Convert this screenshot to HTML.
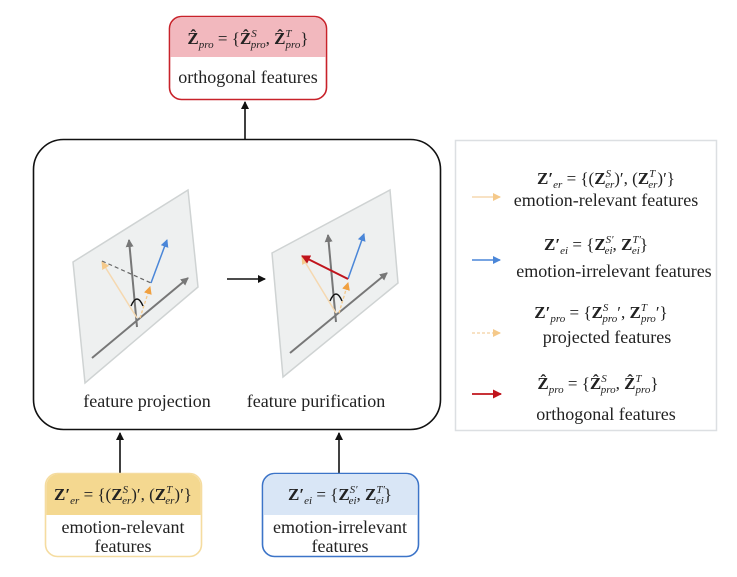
<!DOCTYPE html>
<html><head><meta charset="utf-8"><style>
body{margin:0;background:#fff}
svg{display:block}
text{font-family:"Liberation Serif",serif;fill:#222}
.m{font-size:17px;font-weight:bold}
.t{font-size:18px}
.s{font-size:11px;font-style:italic;font-weight:normal}
.n{font-weight:normal}
</style></head><body>
<svg width="737" height="577" viewBox="0 0 737 577" xmlns="http://www.w3.org/2000/svg">
<defs>
<marker id="ab" markerWidth="8" markerHeight="8" refX="7" refY="4" orient="auto" markerUnits="userSpaceOnUse"><path d="M0,0 L8,4 L0,8 z" fill="#111"/></marker>
<marker id="ag" markerWidth="8" markerHeight="8" refX="7" refY="4" orient="auto" markerUnits="userSpaceOnUse"><path d="M0,0 L8,4 L0,8 z" fill="#777"/></marker>
<marker id="abl" markerWidth="8" markerHeight="8" refX="7" refY="4" orient="auto" markerUnits="userSpaceOnUse"><path d="M0,0 L8,4 L0,8 z" fill="#4a86d8"/></marker>
<marker id="ao" markerWidth="8" markerHeight="8" refX="7" refY="4" orient="auto" markerUnits="userSpaceOnUse"><path d="M0,0 L8,4 L0,8 z" fill="#f5c98a"/></marker>
<marker id="ao2" markerWidth="8" markerHeight="8" refX="7" refY="4" orient="auto" markerUnits="userSpaceOnUse"><path d="M0,0 L8,4 L0,8 z" fill="#f0a040"/></marker>
<marker id="ar" markerWidth="9" markerHeight="9" refX="8" refY="4.5" orient="auto" markerUnits="userSpaceOnUse"><path d="M0,0 L9,4.5 L0,9 z" fill="#c0141c"/></marker>
</defs>

<rect x="169.5" y="16.5" width="157" height="83" rx="12" fill="#fff" stroke="#c8222a" stroke-width="1.6"/>
<path d="M170.3,57 V29 a12,12 0 0 1 12,-12 H313.7 a12,12 0 0 1 12,12 V57 z" fill="#f2b8be"/>
<text class="m" x="248" y="44" text-anchor="middle">Ẑ<tspan class="s" dy="4">pro</tspan><tspan class="n" dy="-4"> = {</tspan>Ẑ<tspan class="s" dy="-7">S</tspan><tspan class="s" dx="-6" dy="11">pro</tspan><tspan class="n" dy="-4">, </tspan>Ẑ<tspan class="s" dy="-7">T</tspan><tspan class="s" dx="-6" dy="11">pro</tspan><tspan class="n" dy="-4">}</tspan></text>
<text class="t" x="248" y="83" text-anchor="middle">orthogonal features</text>
<line x1="245" y1="139" x2="245" y2="102" stroke="#111" stroke-width="1.6" marker-end="url(#ab)"/>

<rect x="33.5" y="139.5" width="407" height="290" rx="30" fill="#fff" stroke="#111" stroke-width="1.6"/>

<polygon points="73,262 188,190 198,287 85,383" fill="#eef0f0" stroke="#cfd3d3" stroke-width="1.5"/>
<line x1="92" y1="358" x2="188" y2="278" stroke="#777" stroke-width="2" marker-end="url(#ag)"/>
<line x1="137" y1="327" x2="129" y2="240" stroke="#777" stroke-width="2" marker-end="url(#ag)"/>
<line x1="151" y1="283" x2="167" y2="240" stroke="#4a86d8" stroke-width="1.5" marker-end="url(#abl)"/>
<line x1="137" y1="318" x2="102" y2="262" stroke="#f5d8b0" stroke-width="1.5" marker-end="url(#ao)"/>
<line x1="102" y1="261" x2="151" y2="283" stroke="#666" stroke-width="1.2" stroke-dasharray="4,3"/>
<line x1="140" y1="318" x2="150" y2="287" stroke="#f5c98a" stroke-width="1.3" stroke-dasharray="3,2" marker-end="url(#ao2)"/>
<path d="M131,306 q6,-14 12,0" fill="none" stroke="#111" stroke-width="1.4"/>

<line x1="227" y1="279" x2="265" y2="279" stroke="#111" stroke-width="1.6" marker-end="url(#ab)"/>

<polygon points="272,253 390,190 398,283 283,377" fill="#eef0f0" stroke="#cfd3d3" stroke-width="1.5"/>
<line x1="290" y1="353" x2="387" y2="273" stroke="#777" stroke-width="2" marker-end="url(#ag)"/>
<line x1="336" y1="322" x2="328" y2="235" stroke="#777" stroke-width="2" marker-end="url(#ag)"/>
<line x1="348" y1="279" x2="364" y2="234" stroke="#4a86d8" stroke-width="1.5" marker-end="url(#abl)"/>
<line x1="336" y1="313" x2="302" y2="257" stroke="#f5d8b0" stroke-width="1.5" marker-end="url(#ao)"/>
<line x1="339" y1="313" x2="348" y2="283" stroke="#f5c98a" stroke-width="1.3" stroke-dasharray="3,2" marker-end="url(#ao2)"/>
<line x1="348" y1="279" x2="302" y2="256" stroke="#c0141c" stroke-width="2" marker-end="url(#ar)"/>
<path d="M330,301 q6,-14 12,0" fill="none" stroke="#111" stroke-width="1.4"/>

<text class="t" x="147" y="407" text-anchor="middle">feature projection</text>
<text class="t" x="316" y="407" text-anchor="middle">feature purification</text>

<line x1="120" y1="473" x2="120" y2="433" stroke="#111" stroke-width="1.6" marker-end="url(#ab)"/>
<line x1="339" y1="473" x2="339" y2="433" stroke="#111" stroke-width="1.6" marker-end="url(#ab)"/>

<rect x="45.5" y="473.5" width="156" height="83" rx="12" fill="#fff" stroke="#f5dca0" stroke-width="1.6"/>
<path d="M46.3,515 V486 a12,12 0 0 1 12,-12 H188.7 a12,12 0 0 1 12,12 V515 z" fill="#f4d890"/>
<text class="m" x="123" y="500" text-anchor="middle">Z′<tspan class="s" dy="4">er</tspan><tspan class="n" dy="-4"> = {(</tspan>Z<tspan class="s" dy="-7">S</tspan><tspan class="s" dx="-6" dy="11">er</tspan><tspan class="n" dy="-4">)′, (</tspan>Z<tspan class="s" dy="-7">T</tspan><tspan class="s" dx="-6" dy="11">er</tspan><tspan class="n" dy="-4">)′}</tspan></text>
<text class="t" x="123" y="533" text-anchor="middle">emotion-relevant</text>
<text class="t" x="123" y="552" text-anchor="middle">features</text>

<rect x="262.5" y="473.5" width="156" height="83" rx="12" fill="#fff" stroke="#3c74c8" stroke-width="1.6"/>
<path d="M263.3,515 V486 a12,12 0 0 1 12,-12 H405.7 a12,12 0 0 1 12,12 V515 z" fill="#d9e6f6"/>
<text class="m" x="340" y="500" text-anchor="middle">Z′<tspan class="s" dy="4">ei</tspan><tspan class="n" dy="-4"> = {</tspan>Z<tspan class="s" dy="-7">S′</tspan><tspan class="s" dx="-9" dy="11">ei</tspan><tspan class="n" dy="-4">, </tspan>Z<tspan class="s" dy="-7">T′</tspan><tspan class="s" dx="-9" dy="11">ei</tspan><tspan class="n" dy="-4">}</tspan></text>
<text class="t" x="340" y="533" text-anchor="middle">emotion-irrelevant</text>
<text class="t" x="340" y="552" text-anchor="middle">features</text>

<rect x="455.5" y="140.5" width="261" height="290" fill="#fff" stroke="#dcdfe2" stroke-width="1.5"/>
<line x1="472" y1="197" x2="500" y2="197" stroke="#f5d8b0" stroke-width="1.5" marker-end="url(#ao)"/>
<text class="m" x="606" y="184" text-anchor="middle">Z′<tspan class="s" dy="4">er</tspan><tspan class="n" dy="-4"> = {(</tspan>Z<tspan class="s" dy="-7">S</tspan><tspan class="s" dx="-6" dy="11">er</tspan><tspan class="n" dy="-4">)′, (</tspan>Z<tspan class="s" dy="-7">T</tspan><tspan class="s" dx="-6" dy="11">er</tspan><tspan class="n" dy="-4">)′}</tspan></text>
<text class="t" x="606" y="206" text-anchor="middle">emotion-relevant features</text>

<line x1="472" y1="260" x2="500" y2="260" stroke="#4a86d8" stroke-width="1.5" marker-end="url(#abl)"/>
<text class="m" x="596" y="250" text-anchor="middle">Z′<tspan class="s" dy="4">ei</tspan><tspan class="n" dy="-4"> = {</tspan>Z<tspan class="s" dy="-7">S′</tspan><tspan class="s" dx="-9" dy="11">ei</tspan><tspan class="n" dy="-4">, </tspan>Z<tspan class="s" dy="-7">T′</tspan><tspan class="s" dx="-9" dy="11">ei</tspan><tspan class="n" dy="-4">}</tspan></text>
<text class="t" x="614" y="277" text-anchor="middle">emotion-irrelevant features</text>

<line x1="472" y1="333" x2="500" y2="333" stroke="#f5d8b0" stroke-width="1.5" stroke-dasharray="3,2" marker-end="url(#ao)"/>
<text class="m" x="601" y="318" text-anchor="middle">Z′<tspan class="s" dy="4">pro</tspan><tspan class="n" dy="-4"> = {</tspan>Z<tspan class="s" dy="-7">S</tspan><tspan class="s" dx="-6" dy="11">pro</tspan><tspan class="n" dy="-4">′, </tspan>Z<tspan class="s" dy="-7">T</tspan><tspan class="s" dx="-6" dy="11">pro</tspan><tspan class="n" dy="-4">′}</tspan></text>
<text class="t" x="607" y="343" text-anchor="middle">projected features</text>

<line x1="472" y1="394" x2="501" y2="394" stroke="#c0141c" stroke-width="1.8" marker-end="url(#ar)"/>
<text class="m" x="598" y="389" text-anchor="middle">Ẑ<tspan class="s" dy="4">pro</tspan><tspan class="n" dy="-4"> = {</tspan>Ẑ<tspan class="s" dy="-7">S</tspan><tspan class="s" dx="-6" dy="11">pro</tspan><tspan class="n" dy="-4">, </tspan>Ẑ<tspan class="s" dy="-7">T</tspan><tspan class="s" dx="-6" dy="11">pro</tspan><tspan class="n" dy="-4">}</tspan></text>
<text class="t" x="606" y="420" text-anchor="middle">orthogonal features</text>
</svg>
</body></html>
